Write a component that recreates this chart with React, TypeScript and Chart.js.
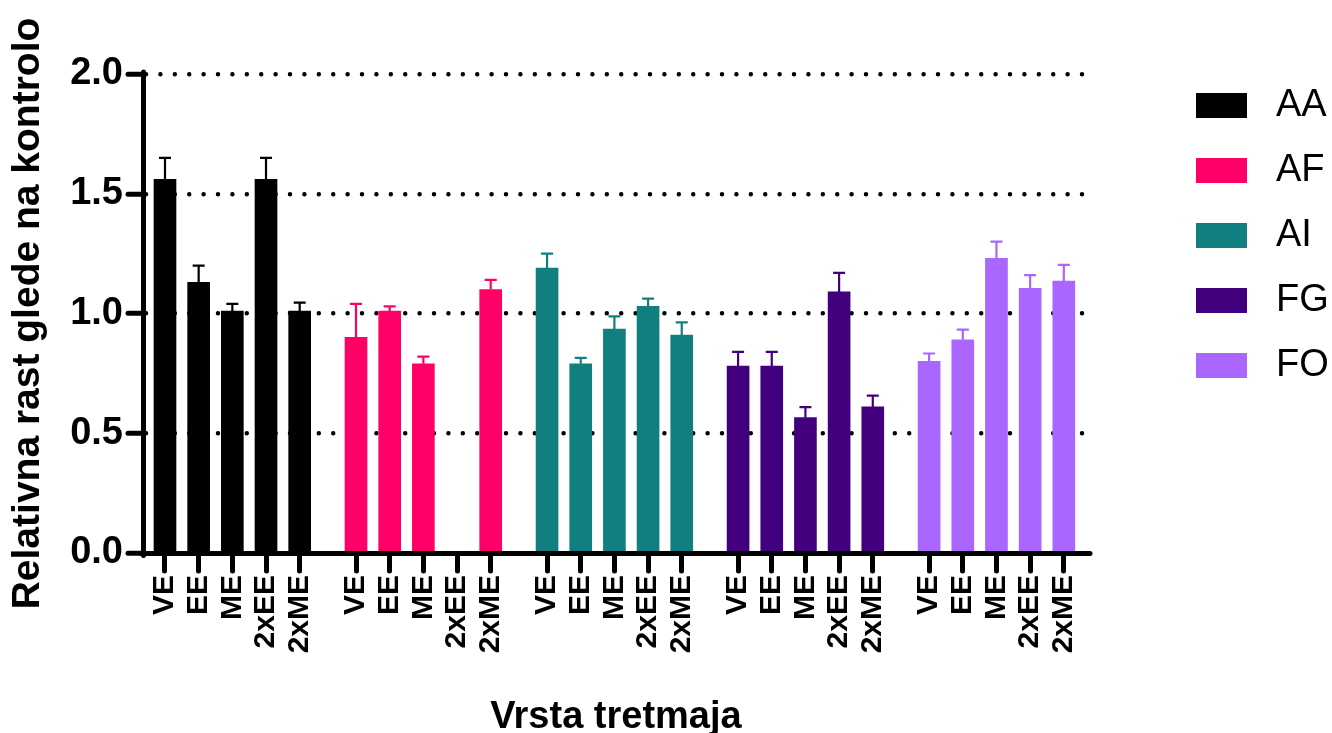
import React, { useEffect, useRef } from "react";
import { Chart, registerables } from "chart.js";

Chart.register(...registerables);

// ---- data ----
const TREATMENTS = ["VE", "EE", "ME", "2xEE", "2xME"];
const GROUPS = ["AA", "AF", "AI", "FG", "FO"];
const COLORS = ["#000000", "#FF0066", "#117F7F", "#42007F", "#AA66FF"];

const AA_VALUES = [1.56, 1.13, 1.01, 1.56, 1.01];
const AA_ERRORS = [0.09, 0.07, 0.03, 0.09, 0.035];
const AF_VALUES = [0.9, 1.01, 0.79, null, 1.1];
const AF_ERRORS = [0.14, 0.02, 0.03, null, 0.04];
const AI_VALUES = [1.19, 0.79, 0.935, 1.03, 0.91];
const AI_ERRORS = [0.06, 0.025, 0.053, 0.032, 0.053];
const FG_VALUES = [0.78, 0.78, 0.565, 1.09, 0.61];
const FG_ERRORS = [0.06, 0.06, 0.044, 0.08, 0.047];
const FO_VALUES = [0.8, 0.89, 1.23, 1.105, 1.135];
const FO_ERRORS = [0.033, 0.043, 0.07, 0.055, 0.068];

const Y_TICKS = [0, 0.5, 1.0, 1.5, 2.0];

const VALUES = [AA_VALUES, AF_VALUES, AI_VALUES, FG_VALUES, FO_VALUES];
const ERRORS = [AA_ERRORS, AF_ERRORS, AI_ERRORS, FG_ERRORS, FO_ERRORS];

// ---- layout (slot units on the x axis) ----
const GROUP_STEP = 5.673;
const X_MIN = -0.653;
const X_MAX = 27.44;
const FONT = "'Liberation Sans', Arial, Helvetica, sans-serif";
const W = 1332;
const H = 733;
const AREA_LEFT = 143;
const AREA_RIGHT = 1089;
const AREA_TOP = 74;
const AREA_BOTTOM = 553;

const positionOf = (g: number, i: number) => g * GROUP_STEP + i;
const TICK_POSITIONS: number[] = [];
GROUPS.forEach((_, g) => TREATMENTS.forEach((_, i) => TICK_POSITIONS.push(positionOf(g, i))));

const roundCapPlugin = {
  id: "roundCap",
  beforeDraw(chart: any) {
    chart.ctx.lineCap = "round";
  },
};

const errorBarPlugin = {
  id: "errorBars",
  afterDatasetsDraw(chart: any) {
    const ctx = chart.ctx;
    const yScale = chart.scales.y;
    ctx.save();
    ctx.lineWidth = 2.2;
    ctx.lineCap = "butt";
    chart.data.datasets.forEach((ds: any, k: number) => {
      const meta = chart.getDatasetMeta(k);
      meta.data.forEach((bar: any, i: number) => {
        const v = VALUES[k][i];
        const e = ERRORS[k][i];
        if (v == null || e == null) return;
        const yBar = yScale.getPixelForValue(v);
        const yTop = yScale.getPixelForValue(v + e);
        ctx.strokeStyle = ds.backgroundColor;
        ctx.beginPath();
        ctx.moveTo(bar.x, yBar);
        ctx.lineTo(bar.x, yTop);
        ctx.moveTo(bar.x - 6, yTop);
        ctx.lineTo(bar.x + 6, yTop);
        ctx.stroke();
      });
    });
    ctx.restore();
  },
};

const legendPlugin = {
  id: "sideLegend",
  afterDraw(chart: any) {
    const ctx = chart.ctx;
    ctx.save();
    ctx.font = `38px ${FONT}`;
    ctx.textBaseline = "middle";
    ctx.textAlign = "left";
    chart.data.datasets.forEach((ds: any, k: number) => {
      const top = 93 + k * 65;
      ctx.fillStyle = ds.backgroundColor;
      ctx.fillRect(1196, top, 51, 25);
      ctx.fillStyle = "#000";
      ctx.fillText(ds.label, 1276, top + 13);
    });
    ctx.restore();
  },
};

export default function App() {
  const canvasRef = useRef<HTMLCanvasElement | null>(null);

  useEffect(() => {
    if (!canvasRef.current) return;
    Chart.defaults.font.family = FONT;
    Chart.defaults.color = "#000";

    const datasets = GROUPS.map((name, g) => ({
      label: name,
      data: TREATMENTS.map((_, i) => ({ x: positionOf(g, i), y: VALUES[g][i] })),
      backgroundColor: COLORS[g],
      borderWidth: 0,
      barThickness: 22,
      grouped: false,
    }));

    const chart = new Chart(canvasRef.current, {
      type: "bar",
      data: { datasets } as any,
      plugins: [roundCapPlugin, errorBarPlugin, legendPlugin],
      options: {
        animation: false,
        responsive: false,
        layout: { padding: { top: AREA_TOP, right: W - AREA_RIGHT, left: 0, bottom: 0 } },
        plugins: {
          legend: { display: false },
          tooltip: { enabled: false },
        },
        scales: {
          x: {
            type: "linear",
            min: X_MIN,
            max: X_MAX,
            offset: false,
            afterFit: (scale: any) => {
              scale.height = H - AREA_BOTTOM;
            },
            afterBuildTicks: (scale: any) => {
              scale.ticks = TICK_POSITIONS.map((v) => ({ value: v }));
            },
            ticks: {
              autoSkip: false,
              minRotation: 90,
              maxRotation: 90,
              padding: 4,
              color: "#000",
              font: { size: 30, weight: "bold", family: FONT },
              callback: (_v: any, index: number) => TREATMENTS[index % TREATMENTS.length],
            },
            grid: {
              display: true,
              offset: false,
              drawOnChartArea: false,
              drawTicks: true,
              tickLength: 18,
              tickWidth: 5,
              tickColor: "#000",
            },
            border: { display: true, color: "#000", width: 5 },
            title: {
              display: true,
              text: "Vrsta tretmaja",
              color: "#000",
              padding: 0,
              font: { size: 38, weight: "bold", family: FONT, lineHeight: 0.8 },
            },
          },
          y: {
            min: 0,
            max: 2,
            afterFit: (scale: any) => {
              scale.width = AREA_LEFT;
            },
            afterBuildTicks: (scale: any) => {
              scale.ticks = Y_TICKS.map((v) => ({ value: v }));
            },
            ticks: {
              padding: 5,
              color: "#000",
              font: { size: 38, weight: "bold", family: FONT },
              callback: (v: any) => Number(v).toFixed(1),
            },
            grid: {
              display: true,
              drawOnChartArea: true,
              color: "#000",
              lineWidth: 4.5,
              drawTicks: true,
              tickLength: 15,
              tickWidth: 5,
              tickColor: "#000",
              tickBorderDash: [],
            },
            border: { display: true, color: "#000", width: 5, dash: [0, 14.4] },
            title: {
              display: true,
              text: "Relativna rast glede na kontrolo",
              color: "#000",
              padding: { top: 9, bottom: 0 },
              font: { size: 39, weight: "bold", family: FONT, lineHeight: 1 },
            },
          },
        },
      } as any,
    });
    return () => chart.destroy();
  }, []);

  return (
    <div style={{ position: "absolute", left: 0, top: 0, width: W, height: H, overflow: "hidden" }}>
      <canvas ref={canvasRef} width={W} height={H} style={{ display: "block" }} />
    </div>
  );
}
